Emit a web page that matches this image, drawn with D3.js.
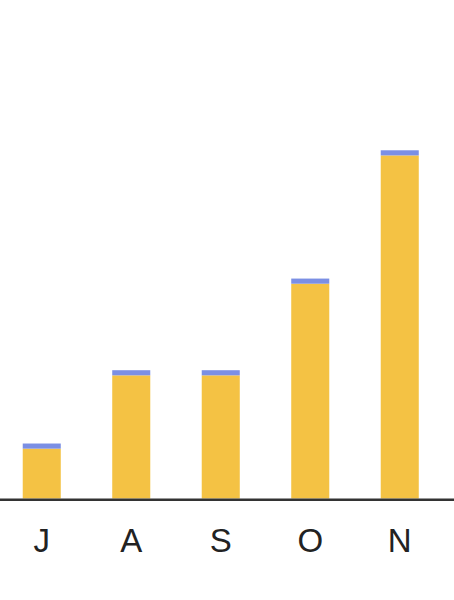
<!DOCTYPE html>
<html>
<head>
<meta charset="utf-8">
<script src="https://cdn.jsdelivr.net/npm/d3@7"></script>
<style>
  body { margin: 0; background: #fff; }
  svg { display: block; }
</style>
</head>
<body>
<div id="chart"></div>
<script>
// month initials along the bottom
var months = ["J", "A", "S", "O", "N"];
// main (yellow) part of each bar
var mainValues = [1.36, 3.36, 3.36, 5.86, 9.36];
// thin blue cap on top of each bar
var capValues = [0.14, 0.14, 0.14, 0.14, 0.14];

var width = 454, height = 600;
var baseY = 498.5;

var svg = d3.select("#chart")
    .append("svg")
    .attr("width", width)
    .attr("height", height);

var x = d3.scaleBand()
    .domain(months)
    .range([-3, 444.5])
    .paddingInner(0.575)
    .paddingOuter(0.2875);

var y = d3.scaleLinear()
    .domain([0, 13.6])
    .range([baseY, 0]);

var rows = months.map(function (m, i) {
    return { month: m, main: mainValues[i], cap: capValues[i] };
});
var stacked = d3.stack().keys(["main", "cap"])(rows);
var colors = { main: "#F4C244", cap: "#7B8FE4" };

svg.selectAll(".layer")
    .data(stacked)
    .enter()
    .append("g")
    .attr("class", "layer")
    .attr("fill", function (d) { return colors[d.key]; })
    .selectAll("rect")
    .data(function (d) { return d; })
    .enter()
    .append("rect")
    .attr("x", function (d) { return x(d.data.month); })
    .attr("width", x.bandwidth())
    .attr("y", function (d) { return y(d[1]); })
    .attr("height", function (d) { return y(d[0]) - y(d[1]); });

// baseline
svg.append("line")
    .attr("x1", 0)
    .attr("x2", width)
    .attr("y1", baseY + 1.3)
    .attr("y2", baseY + 1.3)
    .attr("stroke", "#333")
    .attr("stroke-width", 2.6);

// month labels
svg.selectAll(".lbl")
    .data(months)
    .enter()
    .append("text")
    .attr("class", "lbl")
    .attr("x", function (d) { return x(d) + x.bandwidth() / 2; })
    .attr("y", 552)
    .attr("text-anchor", "middle")
    .attr("font-family", "'Liberation Sans', Arial, sans-serif")
    .attr("font-size", 33)
    .attr("fill", "#222")
    .text(function (d) { return d; });
</script>
</body>
</html>
